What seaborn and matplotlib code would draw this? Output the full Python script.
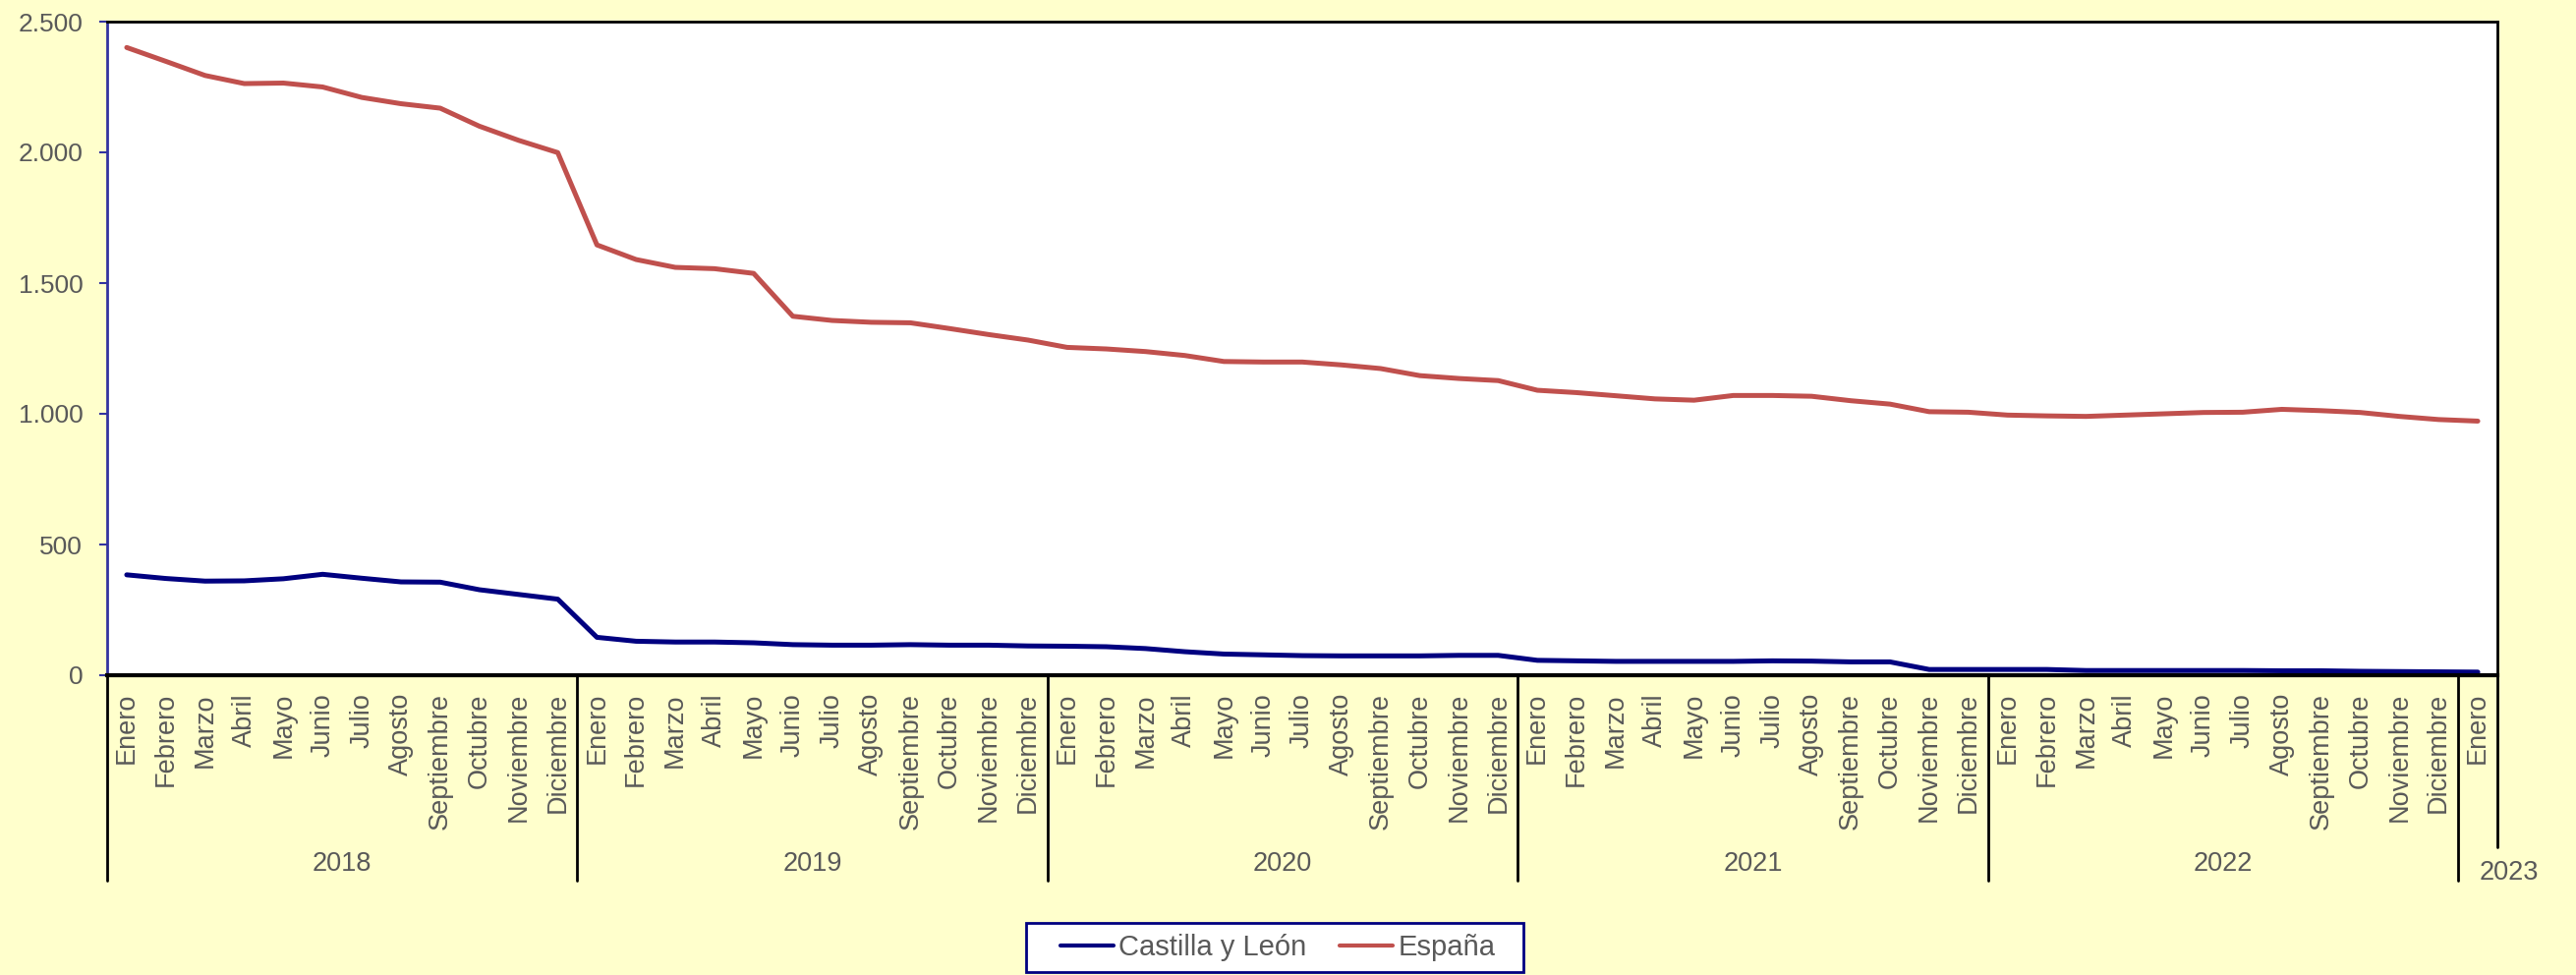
import matplotlib
matplotlib.use("Agg")
import pandas as pd
import seaborn as sns
import matplotlib.pyplot as plt
import matplotlib.transforms as mtransforms
from matplotlib.patches import Rectangle
from matplotlib.ticker import FuncFormatter

# datos: enero 2018 - enero 2023
meses = ['Enero', 'Febrero', 'Marzo', 'Abril', 'Mayo', 'Junio', 'Julio',
         'Agosto', 'Septiembre', 'Octubre', 'Noviembre', 'Diciembre']
anios = ['2018', '2019', '2020', '2021', '2022', '2023']
etiquetas = meses * 5 + ['Enero']

castilla_leon = [384, 370, 360, 361, 369, 386, 371, 357, 356, 327, 309, 291,
                 145, 130, 127, 127, 124, 117, 115, 115, 117, 115, 115, 112,
                 111, 109, 102, 90, 81, 78, 75, 74, 74, 74, 76, 76,
                 57, 55, 53, 53, 53, 53, 55, 54, 51, 51, 22, 22,
                 22, 22, 18, 18, 18, 18, 18, 17, 17, 15, 14, 13,
                 12]
espana = [2401, 2348, 2294, 2263, 2265, 2250, 2210, 2186, 2169, 2100, 2046, 1999,
          1646, 1590, 1560, 1555, 1537, 1373, 1357, 1350, 1348, 1326, 1303, 1282,
          1254, 1248, 1238, 1223, 1200, 1198, 1198, 1187, 1173, 1146, 1135, 1127,
          1090, 1081, 1069, 1057, 1052, 1070, 1070, 1067, 1050, 1037, 1008, 1006,
          995, 992, 990, 995, 1000, 1005, 1006, 1017, 1012, 1005, 990, 978,
          972]

df = pd.DataFrame({
    'pos': list(range(len(etiquetas))) * 2,
    'valor': castilla_leon + espana,
    'serie': ['Castilla y León'] * len(etiquetas) + ['España'] * len(etiquetas),
})

sns.set_style("white")
plt.rcParams['font.family'] = ['Liberation Sans', 'DejaVu Sans']
gris = '#595959'
fondo = '#FFFFCC'
W, H = 2621, 992

fig = plt.figure(figsize=(W / 100, H / 100), dpi=100, facecolor=fondo)
ax = fig.add_axes([109 / W, 1 - 687 / H, (2541 - 109) / W, (687 - 22) / H])
ax.set_facecolor('white')

sns.lineplot(data=df, x='pos', y='valor', hue='serie',
             palette={'Castilla y León': '#000080', 'España': '#C0504D'},
             linewidth=3.6, ax=ax, legend=True)

ax.set_xlim(-0.5, len(etiquetas) - 0.5)
ax.set_ylim(0, 2500)
ax.set_yticks(range(0, 2501, 500))
ax.yaxis.set_major_formatter(FuncFormatter(lambda v, p: f'{int(v):,}'.replace(',', '.')))
ax.tick_params(axis='y', length=5.8, width=1.5, color='#3333A0', labelsize=19,
               labelcolor=gris, pad=12, left=True)
ax.set_xticks(range(len(etiquetas)))
ax.set_xticklabels(etiquetas, rotation=90, va='top', ha='center')
ax.tick_params(axis='x', length=0, labelsize=19.5, labelcolor=gris, pad=13)
ax.set_xlabel('')
ax.set_ylabel('')

for lado in ['top', 'right', 'bottom']:
    ax.spines[lado].set_color('black')
    ax.spines[lado].set_linewidth(2)
ax.spines['bottom'].set_linewidth(3)
ax.spines['left'].set_color('#3333A0')
ax.spines['left'].set_linewidth(2)

# separadores de anios y etiquetas de segundo nivel
trans = mtransforms.blended_transform_factory(ax.transData, fig.transFigure)
y0 = 1 - 687 / H
y_mes = 1 - 862 / H
y_anio = 1 - 896 / H
for k in range(6):
    xs = k * 12 - 0.5
    ax.plot([xs, xs], [y0, y_anio], transform=trans, color='black', lw=2, clip_on=False)
ax.plot([60.5, 60.5], [y0, y_mes], transform=trans, color='black', lw=2, clip_on=False)

for k, anio in enumerate(anios[:5]):
    ax.text(k * 12 + 5.5, 1 - 879 / H, anio, transform=trans, ha='center', va='center',
            fontsize=19.5, color=gris)
ax.text(60.8, 1 - 888 / H, anios[5], transform=trans, ha='center', va='center',
        fontsize=19.5, color=gris)

# leyenda con marco propio
fig.patches.append(Rectangle((1044 / W, 1 - 989 / H), (1550 - 1044) / W, 50 / H,
                             transform=fig.transFigure, facecolor='white',
                             edgecolor='#000080', linewidth=2, zorder=0))
ax.legend_.remove()
handles, labels = ax.get_legend_handles_labels()
leg = fig.legend(handles, labels, loc='center', bbox_to_anchor=(1300 / W, 1 - 964 / H),
                 ncol=2, frameon=False, fontsize=21, handlelength=1.86,
                 handletextpad=0.17, columnspacing=1.17, borderpad=0.2)
for t in leg.get_texts():
    t.set_color(gris)
for l in leg.get_lines():
    l.set_linewidth(3)

fig.savefig('out.png', dpi=100, facecolor=fondo)
